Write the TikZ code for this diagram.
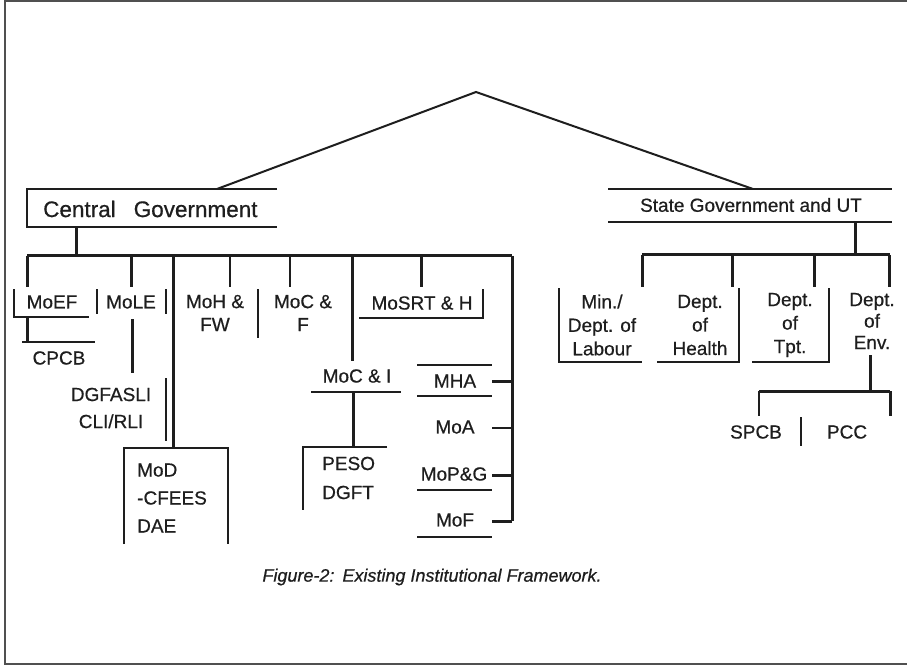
\documentclass[tikz,border=0pt]{standalone}
\usepackage{fontspec}
\setmainfont{Liberation Sans}[FakeBold=0.6, AutoFakeBold=0.6]
\usetikzlibrary{positioning, calc}
\definecolor{ink}{RGB}{30,30,30}
\definecolor{framegray}{RGB}{80,80,80}

\begin{document}
\begin{tikzpicture}[
    x=1pt, y=-1pt,
    lbl/.style={inner sep=0pt, align=center, text=ink,
                font=\fontsize{19}{#1}\selectfont\bfseries},
    lbl/.default=23,
    bus/.style={draw=ink, line width=3pt},
    rule/.style={draw=ink, line width=1.3pt},
    leg/.style={draw=ink, line width=2pt},
]
    \useasboundingbox (0,0) rectangle (907,668);
    % outer frame (open on the right)
    \draw[framegray, line width=2.5pt] (907,1) -- (5,1) -- (5,664) -- (907,664);

    % top level
    \coordinate (apex) at (476,92);
    \node[lbl, anchor=west, font=\fontsize{22.5}{26}\selectfont\bfseries] (cg) at (43,209) {Central\hspace{18pt}Government};
    \node[lbl] (sg) at (751,205) {State Government and UT};
    \draw[rule] (277,189) -- (27,189) -- (27,227) -- (277,227);
    \draw[rule] (608,189) -- (892,189) (608,222) -- (892,222);
    \coordinate (cgtop) at (217,189);
    \coordinate (sgtop) at (753,189);
    \draw[leg] (cgtop) -- (apex) -- (sgtop);

    % central government branch
    \coordinate (cgfoot) at (76,227);
    \coordinate (cbusL) at (27,256);
    \coordinate (cbusR) at (512,256);
    \draw[bus] (cgfoot) -- (cgfoot |- cbusL);
    \draw[bus] (cbusL) -- (cbusR);

    \node[lbl] (moef) at (52,302) {MoEF};
    \node[lbl] (cpcb) at (59,358) {CPCB};
    \node[lbl] (mole) at (131,302) {MoLE};
    \node[lbl=27] (dgfasli) at (111,408) {DGFASLI\\CLI/RLI};
    \node[lbl=28, anchor=west, align=left] (mod) at (137,498) {MoD\\-CFEES\\DAE};
    \node[lbl] (moh) at (215,313) {MoH \&\\FW};
    \node[lbl] (mocf) at (303,313) {MoC \&\\F};
    \node[lbl] (mosrt) at (422,303) {MoSRT \& H};
    \node[lbl] (moci) at (357,376) {MoC \& I};
    \node[lbl=29, anchor=west, align=left] (peso) at (322,478) {PESO\\DGFT};
    \node[lbl] (mha) at (455,381) {MHA};
    \node[lbl] (moa) at (455,427) {MoA};
    \node[lbl] (mopg) at (454,474) {MoP\&G};
    \node[lbl] (mof) at (455,520) {MoF};

    % drops from the bus
    \draw[bus] (cbusL) -- (27,287);
    \draw[bus] (131,256) -- (131,287);
    \draw[bus] (173,256) -- (173,448);
    \draw[rule] (230,256) -- (230,287);
    \draw[rule] (290,256) -- (290,287);
    \draw[bus] (352,256) -- (352,361);
    \draw[bus] (421,256) -- (421,287);
    \draw[bus] (cbusR) -- (512,521);

    % label rules
    \draw[rule] (14,289) -- (14,317) -- (89,317);
    \draw[bus] (27,317) -- (27,342);
    \draw[rule] (22,342) -- (95,342);
    \draw[rule] (97,289) -- (97,314) (166,289) -- (166,314);
    \draw[bus] (132,319) -- (132,373);
    \draw[rule] (166,378) -- (166,441);
    \draw[rule] (124,544) -- (124,448) -- (228,448) -- (228,544);
    \draw[rule] (258,289) -- (258,338);
    \draw[rule] (483,289) -- (483,318) -- (359,318);
    \draw[rule] (311,392) -- (401,392);
    \draw[bus] (353,392) -- (353,447);
    \draw[rule] (387,447) -- (303,447) -- (303,510);
    \draw[rule] (417,365) -- (492,365) (417,396) -- (492,396);
    \draw[rule] (417,490) -- (492,490) (417,537) -- (492,537);
    \draw[bus] (492,381) -- (512,381);
    \draw[rule] (492,428) -- (512,428);
    \draw[bus] (492,475) -- (512,475);
    \draw[bus] (492,521) -- (512,521);

    % state government branch
    \coordinate (sgfoot) at (855,222);
    \coordinate (sbusL) at (642,255);
    \coordinate (sbusR) at (890,255);
    \draw[bus] (sgfoot) -- (sgfoot |- sbusL);
    \draw[bus] (sbusL) -- (sbusR);
    \foreach \xx in {642,732,814,889}
        \draw[bus] (\xx,255) -- (\xx,287);

    \node[lbl=23.5] (labour) at (602,325) {Min./\\Dept. of\\Labour};
    \node[lbl=23.5] (health) at (700,325) {Dept.\\of\\Health};
    \node[lbl=23.5] (tpt) at (790,325) {Dept.\\of\\Tpt.};
    \node[lbl=21.5] (env) at (872,321) {Dept.\\of\\Env.};
    \node[lbl] (spcb) at (756,432) {SPCB};
    \node[lbl] (pcc) at (847,432) {PCC};

    \draw[rule] (559,288) -- (559,362) -- (642,362);
    \draw[rule] (657,362) -- (739,362) -- (739,288);
    \draw[rule] (752,362) -- (829,362) -- (829,288);
    \draw[bus] (870,355) -- (870,391);
    \draw[bus] (759,391) -- (890,391);
    \draw[leg] (759,391) -- (759,416);
    \draw[bus] (890,391) -- (890,416);
    \draw[rule] (801,417) -- (801,446);

    % caption
    \node[inner sep=0pt, text=ink, font=\fontsize{18}{22}\selectfont\itshape] (caption) at (432,577)
        {Figure-2:\hspace{8pt}Existing Institutional Framework.};
\end{tikzpicture}
\end{document}
